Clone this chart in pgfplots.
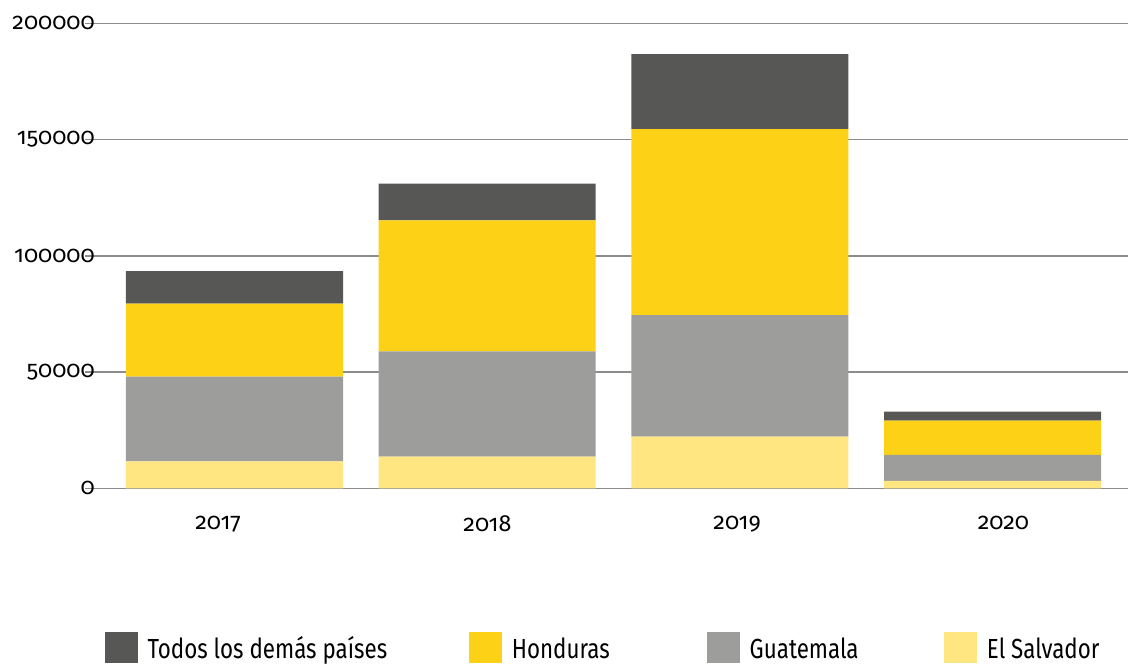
\documentclass[border=0pt]{standalone}
\usepackage{fontspec}
\setmainfont[Numbers=OldStyle]{Fira Sans}
\newfontfamily\legfont[FakeStretch=0.81]{Fira Sans}
\usepackage{pgfplots}
\pgfplotsset{compat=1.18}

\definecolor{cOther}{HTML}{575756}
\definecolor{cHon}{HTML}{FDD116}
\definecolor{cGua}{HTML}{9D9D9C}
\definecolor{cSal}{HTML}{FFE681}
\definecolor{cGrid}{HTML}{8C8C8C}

\pgfplotsset{
  sq/.style={fill=#1, draw=none,
    legend image code/.code={\fill[#1] (0pt,-3.5pt) rectangle (25pt,19.8pt);}},
}

\begin{document}
\begin{tikzpicture}
% fixed page frame: 1px = 0.75pt
\path[use as bounding box] (-63.75pt,-132.4pt) rectangle (786.75pt,366.25pt);
\begin{axis}[
  at={(0,0)}, anchor=south west,
  scale only axis,
  width=782.25pt, height=348.75pt,
  ybar stacked,
  bar width=0.859,
  xmin=-0.5917, xmax=3.536,
  ymin=0, ymax=200000,
  xtick={-0.065,1.001,1.989,3.043},
  xticklabels={2017,2018,2019,2020},
  ytick={0,50000,100000,150000,200000},
  yticklabels={0,50000,100000,150000,200000},
  scaled y ticks=false,
  axis line style={draw=none},
  major tick length=0pt,
  ymajorgrids=true,
  grid style={draw=cGrid, line width=1.1pt},
  tick label style={font=\fontsize{17.5}{21}\selectfont, inner sep=0pt},
  yticklabel style={anchor=east, xshift=7.5pt},
  xticklabel style={anchor=north, yshift=-20.3pt},
  reverse legend,
  legend columns=4,
  legend style={
    at={(0,0)}, anchor=north west,
    xshift=14.5pt, yshift=-107.5pt,
    draw=none, fill=none, inner sep=0pt,
    font=\legfont\fontsize{20.7}{24}\selectfont,
    nodes={inner sep=0pt, anchor=base west},
    /tikz/every odd column/.append style={column sep=7.2pt},
    /tikz/every even column/.append style={column sep=0pt},
  },
]
\addplot[sq=cSal] coordinates {(0,11600) (1,13600) (2,22200) (3,3200)};
\addlegendentry{El Salvador}
\addplot[sq=cGua] coordinates {(0,36500) (1,45300) (2,52300) (3,11200)};
\addlegendentry{\makebox[145.7pt][l]{Guatemala}}
\addplot[sq=cHon] coordinates {(0,31400) (1,56400) (2,80000) (3,14700)};
\addlegendentry{\makebox[146.25pt][l]{Honduras}}
\addplot[sq=cOther] coordinates {(0,13900) (1,15800) (2,32300) (3,3900)};
\addlegendentry{\makebox[241pt][l]{Todos los demás países}}
\end{axis}
\end{tikzpicture}
\end{document}
